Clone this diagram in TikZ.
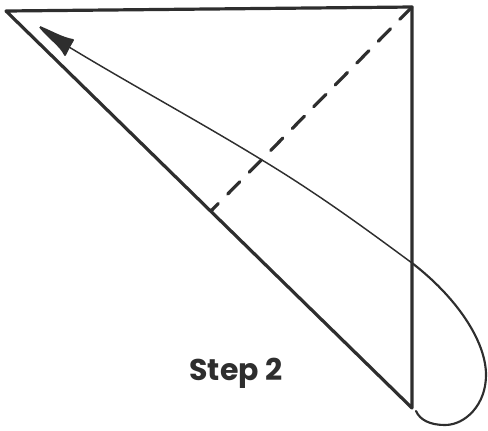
\documentclass[tikz,border=0pt]{standalone}
\usepackage{fontspec}
\setmainfont{Poppins}
\definecolor{ink}{HTML}{2E2E2E}
\tikzset{
  fold/.style={line width=2.4pt, draw=ink, line join=round, line cap=round},
  crease/.style={line width=2.4pt, draw=ink, line cap=round, dash pattern=on 13pt off 10pt},
  path line/.style={line width=1.1pt, draw=ink, line cap=round},
  loop line/.style={line width=1.6pt, draw=ink, line cap=round},
  caption/.style={font=\fontsize{22.5pt}{24pt}\selectfont\bfseries, text=ink, inner sep=0pt},
}

\begin{document}
\begin{tikzpicture}[x=0.75pt, y=-0.75pt]
\useasboundingbox (0,0) rectangle (488,430);

% --- paper outline ---
\coordinate (left) at (6,11);
\coordinate (right) at (412,7);
\coordinate (bottom) at (412,408);
\coordinate (mid) at (211,211);
\draw[fold] (bottom) -- (left) -- (right) -- (bottom);

% --- fold line ---
\draw[crease] (right) -- (mid);

% --- movement arrow ---
\coordinate (tip) at (40,27);
\coordinate (notch) at (69,47);
\coordinate (cross) at (412,263);
\coordinate (end) at (416,411);
\draw[path line] (notch) .. controls (130,84) and (200,122) .. (262,160)
  .. controls (320,195) and (370,232) .. (cross);
\draw[loop line] (cross) .. controls (455,296) and (486,340) .. (486,375)
  .. controls (486,405) and (465,425) .. (445,425)
  .. controls (430,425) and (420,420) .. (end);
\filldraw[ink, line width=1.4pt, line join=round] (tip) .. controls (52,32) and (62,38) .. (73,40)
  -- (notch) -- (65,55) .. controls (61,46) and (50,39) .. (tip);

\node[caption] (title) at (236,373) {Step 2};
\end{tikzpicture}
\end{document}
